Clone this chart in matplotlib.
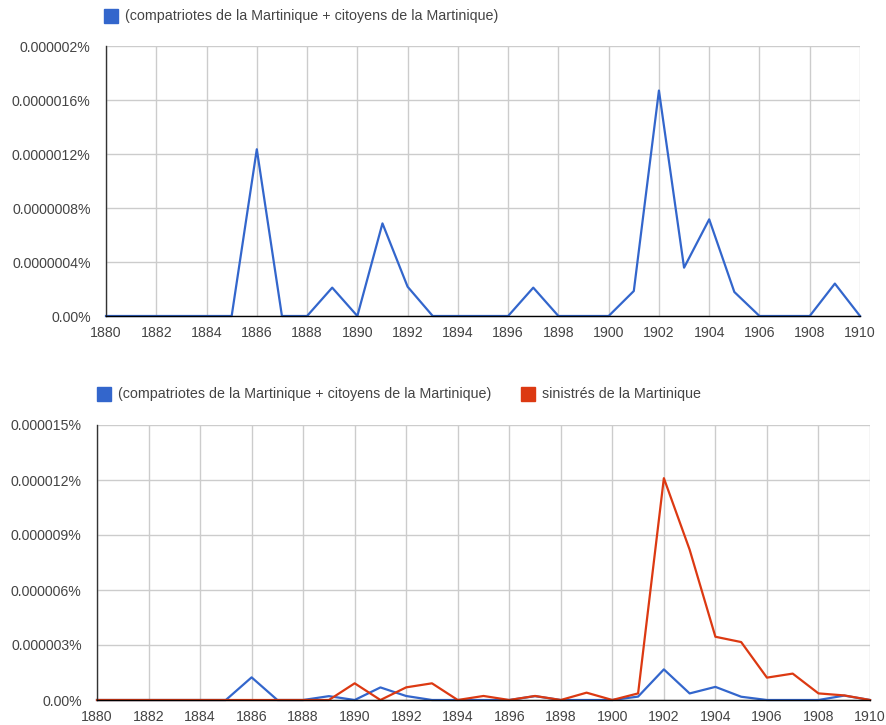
import numpy as np
import matplotlib
matplotlib.use('Agg')
import matplotlib.pyplot as plt
from matplotlib.patches import Rectangle

plt.rcParams['font.family'] = ['Liberation Sans', 'DejaVu Sans']

BLUE = '#3366cc'
RED = '#dc3912'
TEXT = '#444444'
GRID = '#cccccc'

years = list(range(1880, 1911))

# values in percent
compatriotes = [0, 0, 0, 0, 0, 0, 1.235e-6, 0, 0, 0.21e-6,
                0, 0.686e-6, 0.217e-6, 0, 0, 0, 0, 0.21e-6, 0, 0,
                0, 0.185e-6, 1.67e-6, 0.358e-6, 0.716e-6, 0.178e-6, 0, 0, 0, 0.24e-6,
                0]
sinistres = [0, 0, 0, 0, 0, 0, 0, 0, 0, 0,
             0.91e-6, 0, 0.69e-6, 0.91e-6, 0, 0.22e-6, 0, 0.22e-6, 0, 0.4e-6,
             0, 0.36e-6, 12.1e-6, 8.2e-6, 3.45e-6, 3.16e-6, 1.22e-6, 1.44e-6, 0.36e-6, 0.25e-6,
             0]

label_blue = '(compatriotes de la Martinique + citoyens de la Martinique)'
label_red = 'sinistrés de la Martinique'

top_ticks = [0, 0.4e-6, 0.8e-6, 1.2e-6, 1.6e-6, 2.0e-6]
top_labels = ['0.00%', '0.0000004%', '0.0000008%', '0.0000012%', '0.0000016%', '0.000002%']
bot_ticks = [0, 3e-6, 6e-6, 9e-6, 12e-6, 15e-6]
bot_labels = ['0.00%', '0.000003%', '0.000006%', '0.000009%', '0.000012%', '0.000015%']
x_ticks = list(range(1880, 1911, 2))

W, H = 886, 725
FS = 10.2
fig = plt.figure(figsize=(W / 100, H / 100), dpi=100)


def style_axes(ax, yticks, ylabels):
    ax.set_xlim(1880, 1910)
    ax.set_ylim(yticks[0], yticks[-1])
    ax.set_xticks(x_ticks)
    ax.set_yticks(yticks)
    ax.set_yticklabels(ylabels)
    ax.grid(True, color=GRID, linewidth=1.0)
    ax.set_axisbelow(True)
    for s in ['top', 'right']:
        ax.spines[s].set_visible(False)
    ax.spines['left'].set_color('#333333')
    ax.spines['left'].set_linewidth(1.0)
    ax.spines['bottom'].set_color('black')
    ax.spines['bottom'].set_linewidth(1.0)
    ax.tick_params(length=0, labelsize=FS, labelcolor=TEXT)
    ax.tick_params(axis='y', pad=11)
    ax.tick_params(axis='x', pad=7.5)


def legend_item(x, y, color, text):
    fig.patches.append(Rectangle((x / W, 1 - (y + 7) / H), 14 / W, 14 / H,
                                 transform=fig.transFigure, color=color))
    fig.text((x + 21) / W, 1 - y / H, text, fontsize=10.3, color=TEXT,
             va='center', ha='left')


# top panel
ax1 = fig.add_axes([106 / W, 1 - 316 / H, 754 / W, 270 / H])
ax1.plot(years, compatriotes, color=BLUE, lw=1.6, clip_on=False)
style_axes(ax1, top_ticks, top_labels)
legend_item(104, 16, BLUE, label_blue)

# bottom panel
ax2 = fig.add_axes([97 / W, 1 - 700 / H, 773 / W, 275 / H])
ax2.plot(years, compatriotes, color=BLUE, lw=1.6, clip_on=False)
ax2.plot(years, sinistres, color=RED, lw=1.6, clip_on=False)
style_axes(ax2, bot_ticks, bot_labels)
legend_item(97, 394, BLUE, label_blue)
legend_item(521, 394, RED, label_red)

fig.savefig('out.png', dpi=100)
